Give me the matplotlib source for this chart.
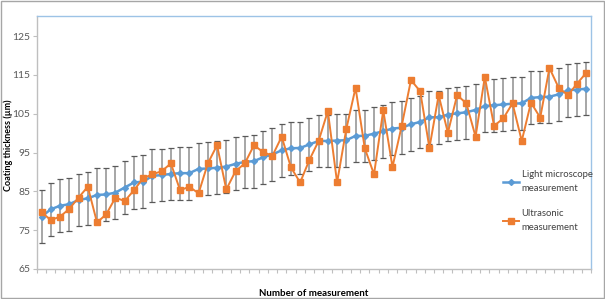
import numpy as np
import matplotlib.pyplot as plt
from matplotlib.patches import Rectangle

# values
light_microscope = [78.5, 80.4, 81.3, 81.7, 82.8, 83.2, 84.1, 84.2, 84.7, 86.0,
                    87.3, 87.5, 89.0, 89.2, 89.5, 89.7, 89.7, 90.8, 90.9, 91.1,
                    91.4, 92.1, 92.6, 92.8, 93.8, 94.5, 95.6, 96.1, 96.2, 97.1,
                    98.0, 98.0, 98.1, 98.2, 99.3, 99.3, 99.9, 100.5, 101.2, 101.4,
                    102.3, 102.9, 104.1, 104.1, 104.8, 105.1, 105.4, 106.0, 107.0, 107.2,
                    107.4, 107.6, 107.7, 109.1, 109.3, 109.4, 110.0, 111.1, 111.2, 111.5]
ultrasonic = [79.6, 77.6, 78.5, 80.5, 83.4, 86.2, 77.0, 79.1, 83.4, 82.5,
              85.3, 88.4, 89.4, 90.2, 92.2, 85.3, 86.2, 84.5, 92.2, 96.9,
              85.5, 90.2, 92.2, 96.9, 95.1, 94.2, 99.1, 91.2, 87.3, 93.1,
              98.0, 105.7, 87.3, 101.1, 111.7, 96.1, 89.4, 105.9, 91.3, 101.9,
              113.7, 110.8, 96.2, 109.8, 100.1, 109.8, 107.7, 99.1, 114.5, 101.9,
              103.8, 107.7, 98.0, 107.9, 104.0, 116.8, 111.7, 109.8, 112.8, 115.6]
error = 6.8
y_ticks = [65, 75, 85, 95, 105, 115, 125]

plt.rcParams['font.family'] = ['Lato', 'DejaVu Sans']

x = np.arange(1, len(light_microscope) + 1)

fig = plt.figure(figsize=(6.05, 2.99), dpi=100)
ax = fig.add_axes([37/605, 30/299, 554/605, 253/299])

# error bars on the microscope series: light grey bar, dark caps
ax.errorbar(x, light_microscope, yerr=error, fmt='none', ecolor='#a6a6a6',
            elinewidth=1.4, capsize=0, zorder=1)
ax.errorbar(x, light_microscope, yerr=error, fmt='none', ecolor='#595959',
            elinewidth=0, capsize=2, capthick=0.9, zorder=1)

ax.plot(x, light_microscope, color='#5B9BD5', lw=1.8, marker='D', ms=3,
        label='Light microscope\nmeasurement', zorder=3)
ax.plot(x, ultrasonic, color='#ED7D31', lw=1.4, marker='s', ms=5,
        label='Ultrasonic\nmeasurement', zorder=4)

ax.set_xlim(0.5, len(x) + 0.5)
ax.set_ylim(65, 130.2)
ax.set_yticks(y_ticks)
ax.set_yticklabels([str(t) for t in y_ticks], fontsize=7.5, color='#595959')
ax.set_xticks(np.arange(0.5, len(x) + 1.5, 1))
ax.set_xticklabels([])
ax.tick_params(axis='x', length=3, color='#bfbfbf', width=0.8)
ax.tick_params(axis='y', length=3, color='#bfbfbf', width=0.8, pad=2)

for side in ['top', 'right']:
    ax.spines[side].set_color('#9DC3E6')
    ax.spines[side].set_linewidth(1)
for side in ['left', 'bottom']:
    ax.spines[side].set_color('#bfbfbf')
    ax.spines[side].set_linewidth(1)

fig.text(8/605, 1 - 145/299, 'Coating thickness (µm)', rotation=90, fontsize=6.5,
         fontweight='bold', ha='center', va='center')
ax.set_xlabel('Number of measurement', fontsize=7, fontweight='bold', labelpad=8)

leg = ax.legend(loc='upper left', bbox_to_anchor=(0.834, 0.405), frameon=False,
                fontsize=6.8, handlelength=1.7, labelspacing=1.7, handletextpad=0.3,
                borderaxespad=0)
for t in leg.get_texts():
    t.set_linespacing(1.7)
    t.set_color('#404040')

# outer chart border
fig.patches.append(Rectangle((0.002, 0.003), 0.996, 0.994, transform=fig.transFigure,
                             fill=False, edgecolor='#a6a6a6', lw=1))

fig.savefig('out.png', dpi=100)
